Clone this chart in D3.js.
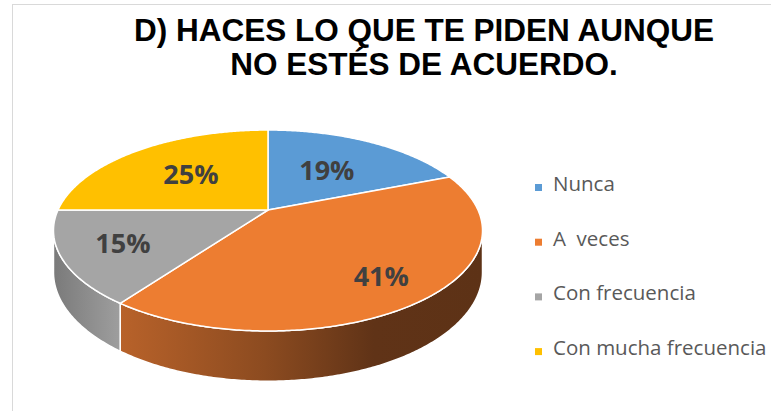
<!DOCTYPE html>
<html>
<head>
<meta charset="utf-8">
<script src="https://cdn.jsdelivr.net/npm/d3@7"></script>
<style>
  body { margin: 0; background: #fff; }
</style>
</head>
<body>
<svg id="chart"></svg>
<script>
const categories = ['Nunca', 'A  veces', 'Con frecuencia', 'Con mucha frecuencia']
const values = [19, 41, 15, 25]
const labels = ['19%', '41%', '15%', '25%']
const titleLines = ['D) HACES LO QUE TE PIDEN AUNQUE', 'NO ESTÉS DE ACUERDO.']

const width = 771
const height = 411

const colors = d3.scaleOrdinal()
  .domain(categories)
  .range(['#5b9bd5', '#ed7d31', '#a5a5a5', '#ffc000'])

// side wall shading (left -> right)
const sideStops = {
  '#5b9bd5': [['0%', '#3f6f9a'], ['100%', '#2f5375']],
  '#ed7d31': [['0%', '#b8622a'], ['40%', '#8c4b20'], ['70%', '#603317'], ['100%', '#5d3216']],
  '#a5a5a5': [['0%', '#7a7a7a'], ['100%', '#9e9e9e']],
  '#ffc000': [['0%', '#b38600'], ['100%', '#8a6800']]
}

const svg = d3.select('#chart')
  .attr('width', width)
  .attr('height', height)

// chart frame
svg.append('rect')
  .attr('x', 12.5)
  .attr('y', 4.5)
  .attr('width', 800)
  .attr('height', 420)
  .attr('fill', 'none')
  .attr('stroke', '#d9d9d9')

svg.append('g').selectAll('text')
  .data(titleLines)
  .enter().append('text')
  .attr('x', 424)
  .attr('y', (d, i) => 41 + i * 34)
  .attr('text-anchor', 'middle')
  .style('font-family', '"Liberation Sans", Arial, sans-serif')
  .style('font-weight', 'bold')
  .style('font-size', '31.5px')
  .style('fill', '#000')
  .text(d => d)

// perspective projection of the pie disk
const cx = 268, cy = 210, R = 210, K = 96.3, e = 0.204, depth = 40

function proj (rho, a) {
  const u = rho * Math.sin(a)
  const v = -rho * Math.cos(a)
  const s = 1 / (1 - e * v)
  return [cx + R * u * s, cy + K * v * s]
}

function drop (a) {
  const v = -Math.cos(a)
  return depth / (1 - e * v)
}

const line = d3.line()

function arcPoints (a0, a1, off) {
  const n = Math.max(2, Math.ceil((a1 - a0) / 0.01))
  return d3.range(n + 1).map(i => {
    const a = a0 + (a1 - a0) * i / n
    const p = proj(1, a)
    return off ? [p[0], p[1] + drop(a)] : p
  })
}

const pie = d3.pie().sort(null).value(d => d)
const slices = pie(values)

// visible part of the outer wall: between the right and left silhouette points
const aRight = Math.PI / 2 + Math.asin(e)
const aLeft = 3 * Math.PI / 2 - Math.asin(e)

const defs = svg.append('defs')
const walls = svg.append('g')
const tops = svg.append('g')

slices.forEach((d, i) => {
  const a0 = Math.max(d.startAngle, aRight)
  const a1 = Math.min(d.endAngle, aLeft)
  if (a1 <= a0) return
  const top = arcPoints(a0, a1, false)
  const bottom = arcPoints(a0, a1, true).reverse()
  const xs = top.map(p => p[0])
  const base = colors(categories[i])
  const grad = defs.append('linearGradient')
    .attr('id', 'side' + i)
    .attr('gradientUnits', 'userSpaceOnUse')
    .attr('x1', d3.min(xs)).attr('x2', d3.max(xs))
    .attr('y1', 0).attr('y2', 0)
  grad.selectAll('stop')
    .data(sideStops[base])
    .enter().append('stop')
    .attr('offset', s => s[0])
    .attr('stop-color', s => s[1])
  walls.append('path')
    .attr('d', line(top.concat(bottom)) + 'Z')
    .attr('fill', 'url(#side' + i + ')')
    .attr('stroke', '#fff')
    .attr('stroke-width', 1.5)
    .attr('stroke-linejoin', 'round')
})

tops.selectAll('path')
  .data(slices)
  .enter().append('path')
  .attr('d', d => line([[cx, cy]].concat(arcPoints(d.startAngle, d.endAngle, false))) + 'Z')
  .attr('fill', (d, i) => colors(categories[i]))
  .attr('stroke', '#fff')
  .attr('stroke-width', 1.5)
  .attr('stroke-linejoin', 'round')

// labels sit further out on the near side of the disk
function labelPos (d) {
  const a = (d.startAngle + d.endAngle) / 2
  const rho = 0.66 - 0.14 * Math.cos(a)
  return proj(rho, a)
}

svg.append('g').selectAll('text')
  .data(slices)
  .enter().append('text')
  .attr('x', d => labelPos(d)[0])
  .attr('y', d => labelPos(d)[1])
  .attr('dy', '0.35em')
  .attr('text-anchor', 'middle')
  .style('font-family', '"Open Sans", sans-serif')
  .style('font-weight', 'bold')
  .style('font-size', '27px')
  .style('fill', '#404040')
  .text((d, i) => labels[i])

// legend
const legend = svg.append('g')
  .selectAll('g')
  .data(categories)
  .enter().append('g')
  .attr('transform', (d, i) => 'translate(535,' + (191 + i * 54.7) + ')')

legend.append('rect')
  .attr('x', 0)
  .attr('y', -7)
  .attr('width', 7)
  .attr('height', 7)
  .attr('fill', d => colors(d))

legend.append('text')
  .attr('x', 18)
  .attr('y', 0)
  .style('font-family', '"Open Sans", sans-serif')
  .style('font-size', '20.5px')
  .style('fill', '#595959')
  .style('white-space', 'pre')
  .text(d => d)
</script>
</body>
</html>
